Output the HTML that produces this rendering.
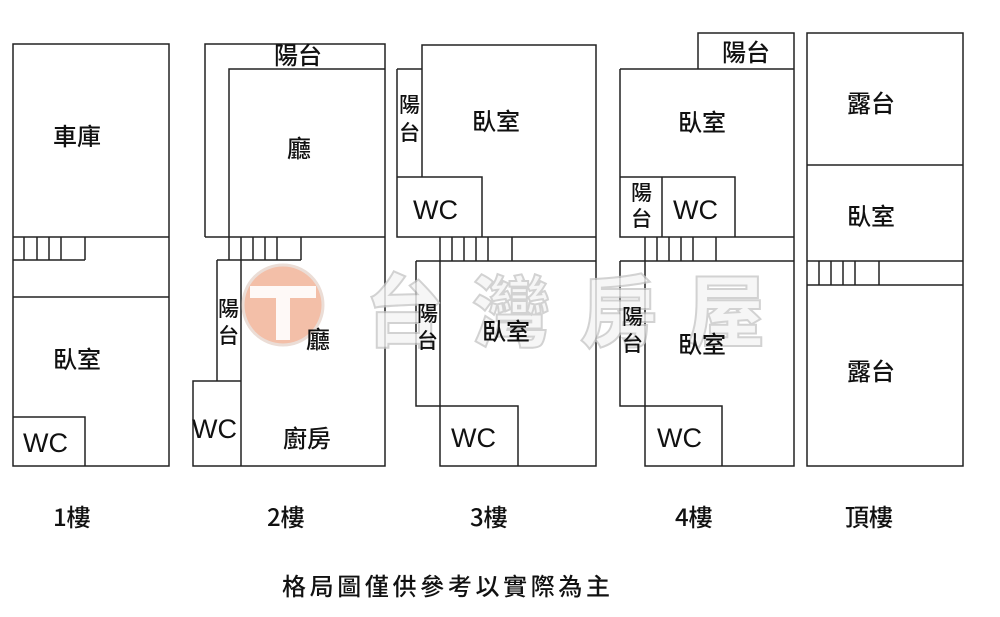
<!DOCTYPE html>
<html><head><meta charset="utf-8"><style>
html,body{margin:0;padding:0;background:#fff;width:1000px;height:617px;overflow:hidden}
svg text{font-family:"Liberation Sans","Noto Sans CJK TC",sans-serif;fill:#111}
.c{font-family:"Noto Sans CJK TC","WenQuanYi Zen Hei",sans-serif;font-size:24px;font-weight:500}
.w{font-family:"Liberation Sans",sans-serif;font-size:27px}
</style></head><body>
<svg width="1000" height="617" viewBox="0 0 1000 617" xmlns="http://www.w3.org/2000/svg">
<g stroke="#222" stroke-width="1.5" fill="none">
<rect x="13" y="44" width="156" height="422"/>
<path d="M13 237H169M13 297H169M24 237V260M37 237V260M49 237V260M61 237V260M85 237V260M13 260H85M13 417H85V466"/>
<path d="M205 237V44H385V466H193V381H241M229 237V69H385M205 237H385M229 237V260M241 237V466M253 237V260M265 237V260M277 237V260M301 237V260M217 260H301M217 260V381"/>
<path d="M422 177V45H596V466H440V237M397 69H422M397 69V237H596M397 177H482V237M416 261H596M416 261V406H518V466M452 237V261M464 237V261M476 237V261M488 237V261M512 237V261"/>
<path d="M620 69H794M698 69V33H794V466H645V237M620 69V237H794M620 177H735V237M662 177V237M620 261H794M620 261V406H722V466M657 237V261M669 237V261M681 237V261M693 237V261M716 237V261"/>
<rect x="807" y="33" width="156" height="433"/>
<path d="M807 165H963M807 261H963M807 285H963M819 261V285M831 261V285M843 261V285M855 261V285M879 261V285"/>
</g>
<circle cx="283" cy="305" r="40" fill="#f2b49a" stroke="#e8d8d0" stroke-width="3" opacity="0.85"/>
<path d="M250 286H316V298H290V340H276V298H250Z" fill="#fff" opacity="0.9"/>
<text x="365" y="340" style="font-family:'Noto Sans CJK TC',sans-serif;font-size:78px;font-weight:900;fill:#f4f4f4;stroke:#c8c8c8;stroke-width:2;opacity:0.8" textLength="400">台灣房屋</text>
<g class="c">
<text x="53" y="145" class="c">車庫</text>
<text x="53" y="368" class="c">臥室</text>
<text x="274" y="64" class="c">陽台</text>
<text x="287" y="157" class="c">廳</text>
<text x="218" y="316" class="c" style="font-size:21px">陽</text>
<text x="218" y="343" class="c" style="font-size:21px">台</text>
<text x="306" y="348" class="c">廳</text>
<text x="283" y="447" class="c">廚房</text>
<text x="472" y="130" class="c">臥室</text>
<text x="399" y="112" class="c" style="font-size:21px">陽</text>
<text x="399" y="140" class="c" style="font-size:21px">台</text>
<text x="417" y="321" class="c" style="font-size:21px">陽</text>
<text x="417" y="348" class="c" style="font-size:21px">台</text>
<text x="482" y="340" class="c">臥室</text>
<text x="678" y="131" class="c">臥室</text>
<text x="631" y="200" class="c" style="font-size:21px">陽</text>
<text x="631" y="226" class="c" style="font-size:21px">台</text>
<text x="722" y="61" class="c">陽台</text>
<text x="622" y="324" class="c" style="font-size:21px">陽</text>
<text x="622" y="351" class="c" style="font-size:21px">台</text>
<text x="678" y="353" class="c">臥室</text>
<text x="847" y="112" class="c">露台</text>
<text x="847" y="225" class="c">臥室</text>
<text x="847" y="380" class="c">露台</text>
<text x="53" y="526" class="c">1樓</text>
<text x="267" y="526" class="c">2樓</text>
<text x="470" y="526" class="c">3樓</text>
<text x="675" y="526" class="c">4樓</text>
<text x="845" y="526" class="c">頂樓</text>
<text x="282" y="595" class="c" style="font-size:24px" textLength="328">格局圖僅供參考以實際為主</text>
</g>
<g class="w">
<text x="23" y="452" class="w">WC</text>
<text x="192" y="438" class="w">WC</text>
<text x="413" y="219" class="w">WC</text>
<text x="451" y="447" class="w">WC</text>
<text x="673" y="219" class="w">WC</text>
<text x="657" y="447" class="w">WC</text>
</g>
</svg>
</body></html>
